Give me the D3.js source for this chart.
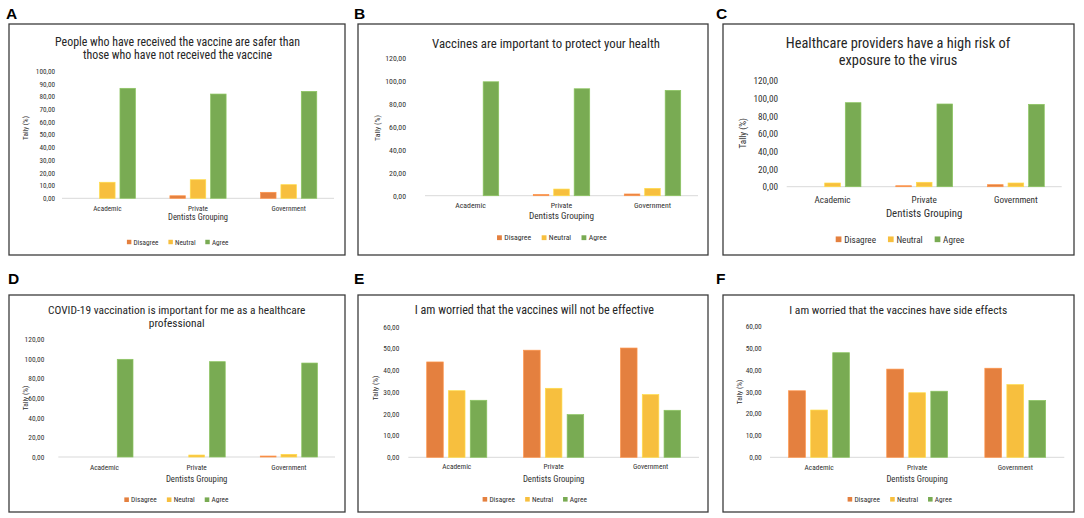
<!DOCTYPE html>
<html>
<head>
<meta charset="utf-8">
<script src="https://cdn.jsdelivr.net/npm/d3@7"></script>
<style>
  body { margin: 0; background: #fff; }
  svg { display: block; }
</style>
</head>
<body>
<div id="chart"></div>
<script>
const FONT = '"Liberation Sans Narrow", "Roboto Condensed", Roboto, sans-serif';

const categories = ["Academic", "Private", "Government"];
const series = ["Disagree", "Neutral", "Agree"];
const colors = ["#E4803F", "#F7BF3E", "#79AB53"];

// one row per series (Disagree, Neutral, Agree), one value per category
const valuesA = [[0, 2.0, 4.7], [12.6, 14.6, 10.7], [86.4, 81.9, 84.0]];
const valuesB = [[0, 1.1, 1.5], [0, 5.8, 6.4], [99.5, 93.4, 92.0]];
const valuesC = [[0, 1.1, 2.3], [4.2, 5.0, 4.2], [95.4, 93.9, 93.5]];
const valuesD = [[0, 0, 1.0], [0, 2.0, 2.7], [99.6, 97.2, 95.8]];
const valuesE = [[43.8, 49.2, 50.2], [30.6, 31.7, 28.8], [26.2, 19.6, 21.6]];
const valuesF = [[30.4, 40.3, 40.7], [21.6, 29.5, 33.2], [47.8, 30.2, 26.0]];

const titleA = ["People who have received the vaccine are safer than", "those who have not received the vaccine"];
const titleB = ["Vaccines are important to protect your health"];
const titleC = ["Healthcare providers have a high risk of", "exposure to the virus"];
const titleD = ["COVID-19 vaccination is important for me as a healthcare", "professional"];
const titleE = ["I am worried that the vaccines will not be effective"];
const titleF = ["I am worried that the vaccines have side effects"];

const yMaxA = 100, yMaxB = 120, yMaxC = 120, yMaxD = 120, yMaxE = 60, yMaxF = 60;
const yStepA = 10, yStepB = 20, yStepC = 20, yStepD = 20, yStepE = 10, yStepF = 10;

const panels = [
  { letter: "A", lx: 6, ly: 19, box: [9, 24, 345, 255], values: valuesA, title: titleA, yMax: yMaxA, step: yStepA,
    xr: [62, 334], base: 198.3, top: 71, tickRight: 55, titleY: [41.5, 54.5], titleX: 177.5, titleFs: 11.9,
    yl: [25, 128], catY: 208.3, dgY: 217.2, legY: 242, legX: 178, fs: 7.2 },
  { letter: "B", lx: 354, ly: 19, box: [358, 24, 708, 255], values: valuesB, title: titleB, yMax: yMaxB, step: yStepB,
    xr: [425, 698], base: 195.7, top: 58.3, tickRight: 406, titleY: [43.3], titleX: 546, titleFs: 12.8,
    yl: [377, 128], catY: 205.7, dgY: 215.5, legY: 237.7, legX: 552, fs: 7.8 },
  { letter: "C", lx: 716, ly: 19, box: [723, 24, 1074, 255], values: valuesC, title: titleC, yMax: yMaxC, step: yStepC,
    xr: [786.7, 1061.7], base: 186.7, top: 81, tickRight: 778, titleY: [43.3, 60.5], titleX: 898, titleFs: 14.4,
    yl: [742.7, 133.3], catY: 199.7, dgY: 213.8, legY: 239.3, legX: 900, fs: 9.2 },
  { letter: "D", lx: 8, ly: 284, box: [9, 295, 345, 512], values: valuesD, title: titleD, yMax: yMaxD, step: yStepD,
    xr: [58.3, 335], base: 457, top: 339.3, tickRight: 44.3, titleY: [310, 323.3], titleX: 176.7, titleFs: 11.4,
    yl: [25, 398], catY: 467.2, dgY: 479.3, legY: 499.7, legX: 176.7, fs: 7.4 },
  { letter: "E", lx: 354, ly: 284, box: [358, 295, 708, 512], values: valuesE, title: titleE, yMax: yMaxE, step: yStepE,
    xr: [408.3, 699], base: 457.3, top: 326.7, tickRight: 399.3, titleY: [309.7], titleX: 534.3, titleFs: 12.1,
    yl: [375.7, 388], catY: 466.7, dgY: 478.7, legY: 499.3, legX: 535, fs: 7.4 },
  { letter: "F", lx: 716, ly: 284, box: [723, 295, 1074, 512], values: valuesF, title: titleF, yMax: yMaxF, step: yStepF,
    xr: [770, 1064.3], base: 457.3, top: 326, tickRight: 761.7, titleY: [309.7], titleX: 898.3, titleFs: 11.6,
    yl: [739, 392], catY: 467.3, dgY: 478.7, legY: 499.3, legX: 900, fs: 7.4 }
];

const locale = d3.formatLocale({ decimal: ",", thousands: ".", grouping: [3], currency: ["", ""] });
const fmt = locale.format(".2f");

const svg = d3.select("#chart")
  .append("svg")
  .attr("width", 1084)
  .attr("height", 518)
  .attr("font-family", FONT);

function drawPanel(p) {
  const g = svg.append("g");

  g.append("rect")
    .attr("x", p.box[0]).attr("y", p.box[1])
    .attr("width", p.box[2] - p.box[0]).attr("height", p.box[3] - p.box[1])
    .attr("fill", "#fff").attr("stroke", "#3c3c3c").attr("stroke-width", 1.3);

  svg.append("text")
    .attr("x", p.lx).attr("y", p.ly)
    .attr("font-family", "Liberation Sans, Arial, sans-serif")
    .attr("font-weight", "bold").attr("font-size", 15.5).attr("fill", "#000")
    .text(p.letter);

  g.selectAll(".title")
    .data(p.title)
    .enter()
    .append("text")
    .attr("class", "title")
    .attr("x", p.titleX).attr("y", (d, i) => p.titleY[i])
    .attr("text-anchor", "middle").attr("dominant-baseline", "central")
    .attr("font-size", p.titleFs).attr("fill", "#262626")
    .text(d => d);

  const x = d3.scaleBand().domain(categories).range(p.xr).paddingInner(0.38).paddingOuter(0.19);
  const xs = d3.scaleBand().domain(series).range([0, x.bandwidth()]).paddingInner(0.24);
  const y = d3.scaleLinear().domain([0, p.yMax]).range([p.base, p.top]);

  const yAxis = g.append("g")
    .attr("transform", `translate(${p.tickRight},0)`)
    .call(d3.axisLeft(y).tickValues(d3.range(0, p.yMax + 0.001, p.step)).tickSize(0).tickPadding(0).tickFormat(fmt));
  yAxis.select(".domain").remove();
  yAxis.attr("font-family", FONT).attr("font-size", p.fs);
  yAxis.selectAll("text").attr("fill", "#303030");

  g.append("line")
    .attr("x1", p.xr[0]).attr("x2", p.xr[1])
    .attr("y1", p.base).attr("y2", p.base)
    .attr("stroke", "#d9d9d9").attr("stroke-width", 1);

  const xAxis = g.append("g")
    .attr("transform", `translate(0,${p.catY})`)
    .call(d3.axisBottom(x).tickSize(0).tickPadding(0));
  xAxis.select(".domain").remove();
  xAxis.attr("font-family", FONT).attr("font-size", p.fs);
  xAxis.selectAll("text").attr("fill", "#303030").attr("dy", "0.32em");

  g.append("text")
    .attr("x", x("Private") + x.bandwidth() / 2).attr("y", p.dgY)
    .attr("text-anchor", "middle").attr("dominant-baseline", "central")
    .attr("font-size", p.fs * 1.18).attr("fill", "#303030")
    .text("Dentists Grouping");

  g.append("text")
    .attr("transform", `translate(${p.yl[0]},${p.yl[1]}) rotate(-90)`)
    .attr("text-anchor", "middle").attr("dominant-baseline", "central")
    .attr("font-size", p.fs).attr("fill", "#303030")
    .text("Tally (%)");

  series.forEach((s, si) => {
    g.append("g")
      .selectAll("rect")
      .data(p.values[si])
      .enter()
      .append("rect")
      .attr("x", (d, ci) => x(categories[ci]) + xs(s))
      .attr("y", d => y(d))
      .attr("width", xs.bandwidth())
      .attr("height", d => p.base - y(d))
      .attr("fill", colors[si])
      .attr("stroke", d3.color(colors[si]).brighter(0.4))
      .attr("stroke-width", d => d > 0 ? 0.7 : 0);
  });

  // legend, centred on legX
  const leg = g.append("g").attr("transform", `translate(0,${p.legY})`);
  const sq = p.fs * 0.62;
  const gap = p.fs * 1.3;
  const items = leg.selectAll("g")
    .data(series)
    .enter()
    .append("g");
  items.append("rect")
    .attr("y", -sq / 2).attr("width", sq).attr("height", sq)
    .attr("fill", (d, i) => colors[i]);
  items.append("text")
    .attr("x", sq + p.fs * 0.3)
    .attr("dominant-baseline", "central")
    .attr("font-size", p.fs).attr("fill", "#303030")
    .text(d => d);
  let offs = [], cur = 0;
  items.each(function () {
    offs.push(cur);
    cur += this.getBBox().width + gap;
  });
  const total = cur - gap;
  items.attr("transform", (d, i) => `translate(${p.legX - total / 2 + offs[i]},0)`);
}

panels.forEach(drawPanel);
</script>
</body>
</html>
